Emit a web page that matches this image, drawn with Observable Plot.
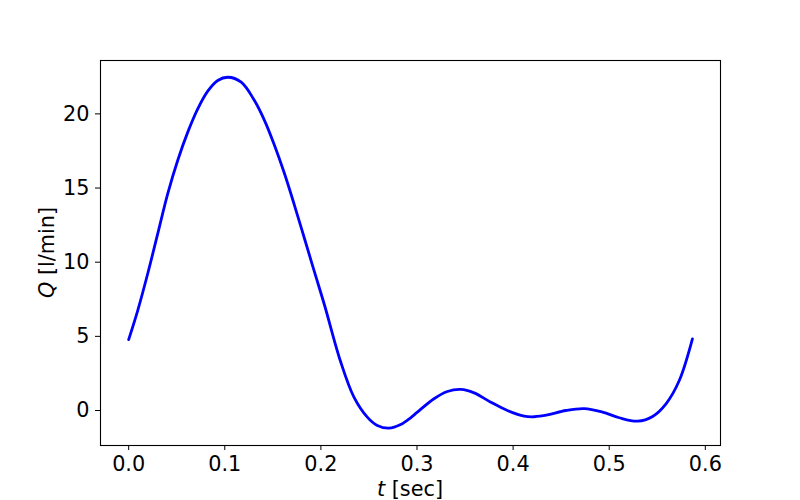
<!DOCTYPE html>
<html>
<head>
<meta charset="utf-8">
<script src="https://cdn.jsdelivr.net/npm/d3@7"></script>
<script src="https://cdn.jsdelivr.net/npm/@observablehq/plot@0.6"></script>
<style>
  html, body { margin: 0; padding: 0; background: #ffffff; }
  #chart { width: 800px; height: 500px; }
</style>
</head>
<body>
<div id="chart"></div>
<script>
// Time [sec]
const tValues = [0, 0.0094, 0.0198, 0.0302, 0.0406, 0.051, 0.0615, 0.0719, 0.0823, 0.0927, 0.1031, 0.1171, 0.1309, 0.1414, 0.1518, 0.1622, 0.1726, 0.183, 0.1934, 0.2039, 0.2205, 0.2344, 0.2483, 0.2587, 0.2708, 0.283, 0.2934, 0.3004, 0.3177, 0.3316, 0.3455, 0.3594, 0.3768, 0.3941, 0.4115, 0.422, 0.4358, 0.4549, 0.474, 0.4931, 0.5104, 0.5296, 0.5452, 0.5591, 0.5729, 0.5866];
// Flow Q [l/min]
const qValues = [4.78, 6.74, 9.22, 11.91, 14.61, 16.86, 18.77, 20.34, 21.53, 22.25, 22.47, 22.14, 20.9, 19.55, 17.87, 15.96, 13.82, 11.58, 9.33, 7.08, 3.3, 0.9, -0.45, -1.01, -1.19, -0.95, -0.49, -0.11, 0.79, 1.28, 1.42, 1.19, 0.56, 0.0, -0.38, -0.42, -0.3, 0.0, 0.13, -0.11, -0.49, -0.72, -0.4, 0.45, 2.02, 4.83];
// Tick values
const xTicks = [0, 0.1, 0.2, 0.3, 0.4, 0.5, 0.6];
const yTicks = [0, 5, 10, 15, 20];

const data = tValues.map((t, i) => ({t, q: qValues[i]}));

const chart = Plot.plot({
  width: 800,
  height: 500,
  marginLeft: 100,
  marginRight: 80,
  marginTop: 60,
  marginBottom: 55,
  style: {fontFamily: "DejaVu Sans", background: "#ffffff", color: "#000000"},
  x: {domain: [-0.0293, 0.6158], label: null},
  y: {domain: [-2.36, 23.6], label: null},
  marks: [
    Plot.line(data, {x: "t", y: "q", stroke: "#0000ff", strokeWidth: 2.8, curve: "catmull-rom"}),
    Plot.frame({stroke: "#000000", strokeWidth: 1.1}),
    Plot.axisX({ticks: xTicks, tickFormat: d3.format(".1f"), tickSize: 5, tickPadding: 6, fontSize: 20.8, label: null}),
    Plot.axisY({ticks: yTicks, tickSize: 5, tickPadding: 6, fontSize: 20.8, label: null})
  ]
});

document.getElementById("chart").appendChild(chart);

const svg = d3.select(chart);
const xl = svg.append("text")
  .attr("x", 410).attr("y", 496)
  .attr("text-anchor", "middle")
  .attr("font-size", 20.8)
  .attr("fill", "#000000");
xl.append("tspan").attr("font-style", "italic").text("t");
xl.append("tspan").text(" [sec]");

const yl = svg.append("text")
  .attr("transform", "translate(53.5,252.5) rotate(-90)")
  .attr("text-anchor", "middle")
  .attr("font-size", 20.8)
  .attr("fill", "#000000");
yl.append("tspan").attr("font-style", "italic").text("Q");
yl.append("tspan").text(" [l/min]");
</script>
</body>
</html>
